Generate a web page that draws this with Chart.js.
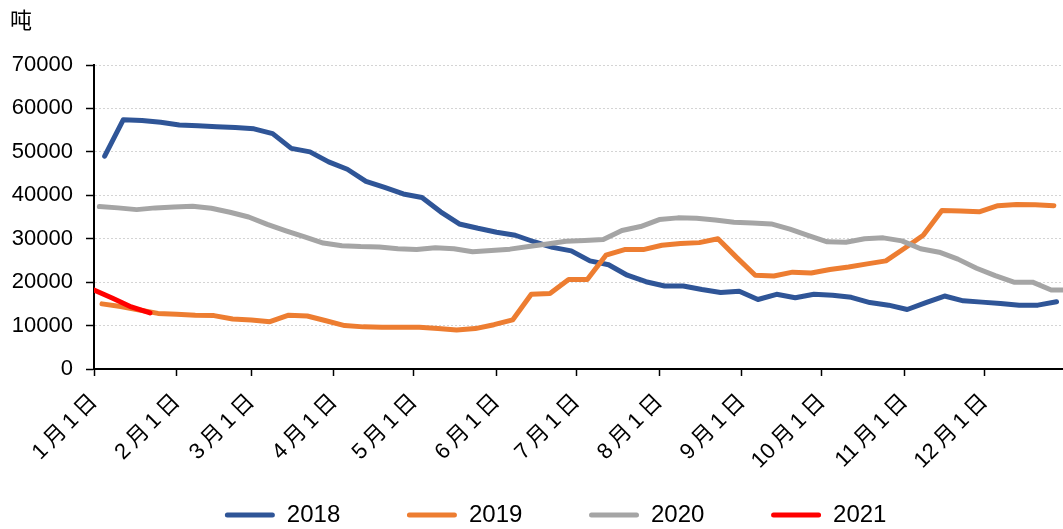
<!DOCTYPE html>
<meta charset="utf-8" />
<title>库存</title>
<script src="https://cdn.jsdelivr.net/npm/chart.js@4/dist/chart.umd.min.js"></script>
<style>
html, body {
	margin: 0;
	overflow: hidden;
	background: #fff;
}
.chart {
	display: block;
}
</style>

<!-- wider than the window: the source chart is cut off at its right edge -->
<canvas class="chart" width="1148" height="529"></canvas>

<script>
// days since 1 Jan, weekly (Fridays)
const days2018 = [4, 11, 18, 25, 32, 39, 46, 53, 60, 67, 74, 81, 88, 95, 102, 109, 116, 123, 130, 137, 144, 151, 158, 165, 172, 179, 186, 193, 200, 207, 214, 221, 228, 235, 242, 249, 256, 263, 270, 277, 284, 291, 298, 305, 312, 319, 326, 333, 340, 347, 354, 361];
const values2018 = [49000, 57400, 57200, 56800, 56200, 56000, 55800, 55600, 55300, 54200, 50800, 50000, 47700, 46000, 43200, 41800, 40300, 39500, 36200, 33400, 32400, 31500, 30800, 29300, 28000, 27200, 24900, 24000, 21600, 20100, 19100, 19100, 18300, 17600, 17900, 16000, 17200, 16400, 17200, 17000, 16500, 15300, 14700, 13700, 15300, 16800, 15700, 15400, 15100, 14700, 14700, 15500];

const days2019 = [3, 10, 17, 24, 31, 38, 45, 52, 59, 66, 73, 80, 87, 94, 101, 108, 115, 122, 129, 136, 143, 150, 157, 164, 171, 178, 185, 192, 199, 206, 213, 220, 227, 234, 241, 248, 255, 262, 269, 276, 283, 290, 297, 304, 311, 318, 325, 332, 339, 346, 353, 360];
const values2019 = [15000, 14400, 13600, 12800, 12600, 12400, 12300, 11500, 11300, 10900, 12400, 12200, 11100, 10000, 9700, 9600, 9600, 9600, 9300, 9000, 9300, 10200, 11300, 17200, 17400, 20600, 20600, 26200, 27500, 27500, 28500, 28900, 29100, 30000, 25700, 21600, 21400, 22300, 22100, 22900, 23500, 24200, 24900, 27800, 30800, 36500, 36400, 36200, 37600, 37900, 37800, 37600];

const days2020 = [2, 9, 16, 23, 30, 37, 44, 51, 58, 65, 72, 79, 86, 93, 100, 107, 114, 121, 128, 135, 142, 149, 156, 163, 170, 177, 184, 191, 198, 205, 212, 219, 226, 233, 240, 247, 254, 261, 268, 275, 282, 289, 296, 303, 310, 317, 324, 331, 338, 345, 352, 359, 366];
const values2020 = [37400, 37100, 36700, 37100, 37300, 37500, 37000, 36100, 35000, 33300, 31800, 30400, 29000, 28400, 28200, 28100, 27700, 27500, 27900, 27700, 27000, 27300, 27600, 28200, 28800, 29400, 29600, 29800, 31900, 32800, 34400, 34800, 34700, 34300, 33800, 33600, 33400, 32200, 30700, 29300, 29200, 30000, 30200, 29500, 27700, 26900, 25300, 23200, 21500, 20000, 20000, 18200, 18200];

const days2021 = [0, 7, 14, 21];
const values2021 = [18200, 16300, 14300, 12900];

const monthDays = [0, 31, 59, 90, 120, 151, 181, 212, 243, 273, 304, 334];
const monthLabels = ['1月1日', '2月1日', '3月1日', '4月1日', '5月1日', '6月1日', '7月1日', '8月1日', '9月1日', '10月1日', '11月1日', '12月1日'];

const pts = (xs, ys) => xs.map((x, i) => ({x: x, y: ys[i]}));

const line = (label, xs, ys, color, order) => ({
	label: label,
	data: pts(xs, ys),
	borderColor: color,
	backgroundColor: color,
	borderWidth: 5,
	borderCapStyle: 'round',
	borderJoinStyle: 'round',
	pointRadius: 0,
	tension: 0,
	order: order,
});

// the source spaces the date characters a little apart
const spaced = s => s.replace(/(\d+)月(\d+)日/, '$1\u2009月\u2009$2\u2009日');

Chart.defaults.font.family = '"Liberation Sans", Arial, "Noto Sans CJK SC", sans-serif';
Chart.defaults.color = '#000';

new Chart(document.querySelector('.chart'), {
	type: 'line',
	data: {
		datasets: [
			line('2018', days2018, values2018, '#2F5597', 4),
			line('2019', days2019, values2019, '#ED7D31', 3),
			line('2020', days2020, values2020, '#A5A5A5', 2),
			line('2021', days2021, values2021, '#FF0000', 1),
		]
	},
	options: {
		responsive: false,
		animation: false,
		layout: {
			padding: {left: 10, right: 0, top: 0, bottom: -8},
		},
		plugins: {
			title: {
				display: true,
				text: '吨',
				align: 'start',
				font: {size: 22, weight: 'normal', family: '"Noto Sans CJK SC", sans-serif'},
				padding: {top: 6, bottom: 32.6},
			},
			legend: {
				position: 'bottom',
				labels: {
					boxWidth: 50,
					boxHeight: 5,
					padding: 20,
					font: {size: 24},
					useBorderRadius: true,
					borderRadius: 2.5,
					sort: (a, b) => a.datasetIndex - b.datasetIndex,
					// trailing blanks widen the gap between legend entries
					generateLabels: chart => Chart.defaults.plugins.legend.labels.generateLabels(chart)
						.map(item => Object.assign(item, {
							lineWidth: 0,
							fillStyle: item.strokeStyle,
							text: item.text + '\u00a0'.repeat(7),
						})),
				},
			},
			tooltip: {enabled: false},
		},
		scales: {
			x: {
				type: 'linear',
				min: 0,
				max: 395.3,
				afterBuildTicks: scale => {
					scale.ticks = monthDays.map(v => ({value: v}));
				},
				afterFit: scale => {
					scale.height = 114;
				},
				ticks: {
					autoSkip: false,
					maxRotation: 45,
					minRotation: 45,
					padding: 13,
					font: {size: 22},
					callback: v => spaced(monthLabels[monthDays.indexOf(v)]),
				},
				grid: {
					drawOnChartArea: false,
					tickColor: '#000',
					tickLength: 7,
					tickWidth: 1.5,
				},
				border: {color: '#000', width: 2},
			},
			y: {
				min: 0,
				max: 70000,
				afterFit: scale => {
					scale.width = 84;
				},
				ticks: {
					stepSize: 10000,
					padding: 13,
					font: {size: 22},
					callback: v => String(v),
				},
				grid: {
					color: '#d4d4d4',
					tickColor: '#000',
					tickLength: 8,
					tickWidth: 1.5,
				},
				border: {color: '#000', width: 2, dash: [2, 2]},
			},
		},
	},
});
</script>
